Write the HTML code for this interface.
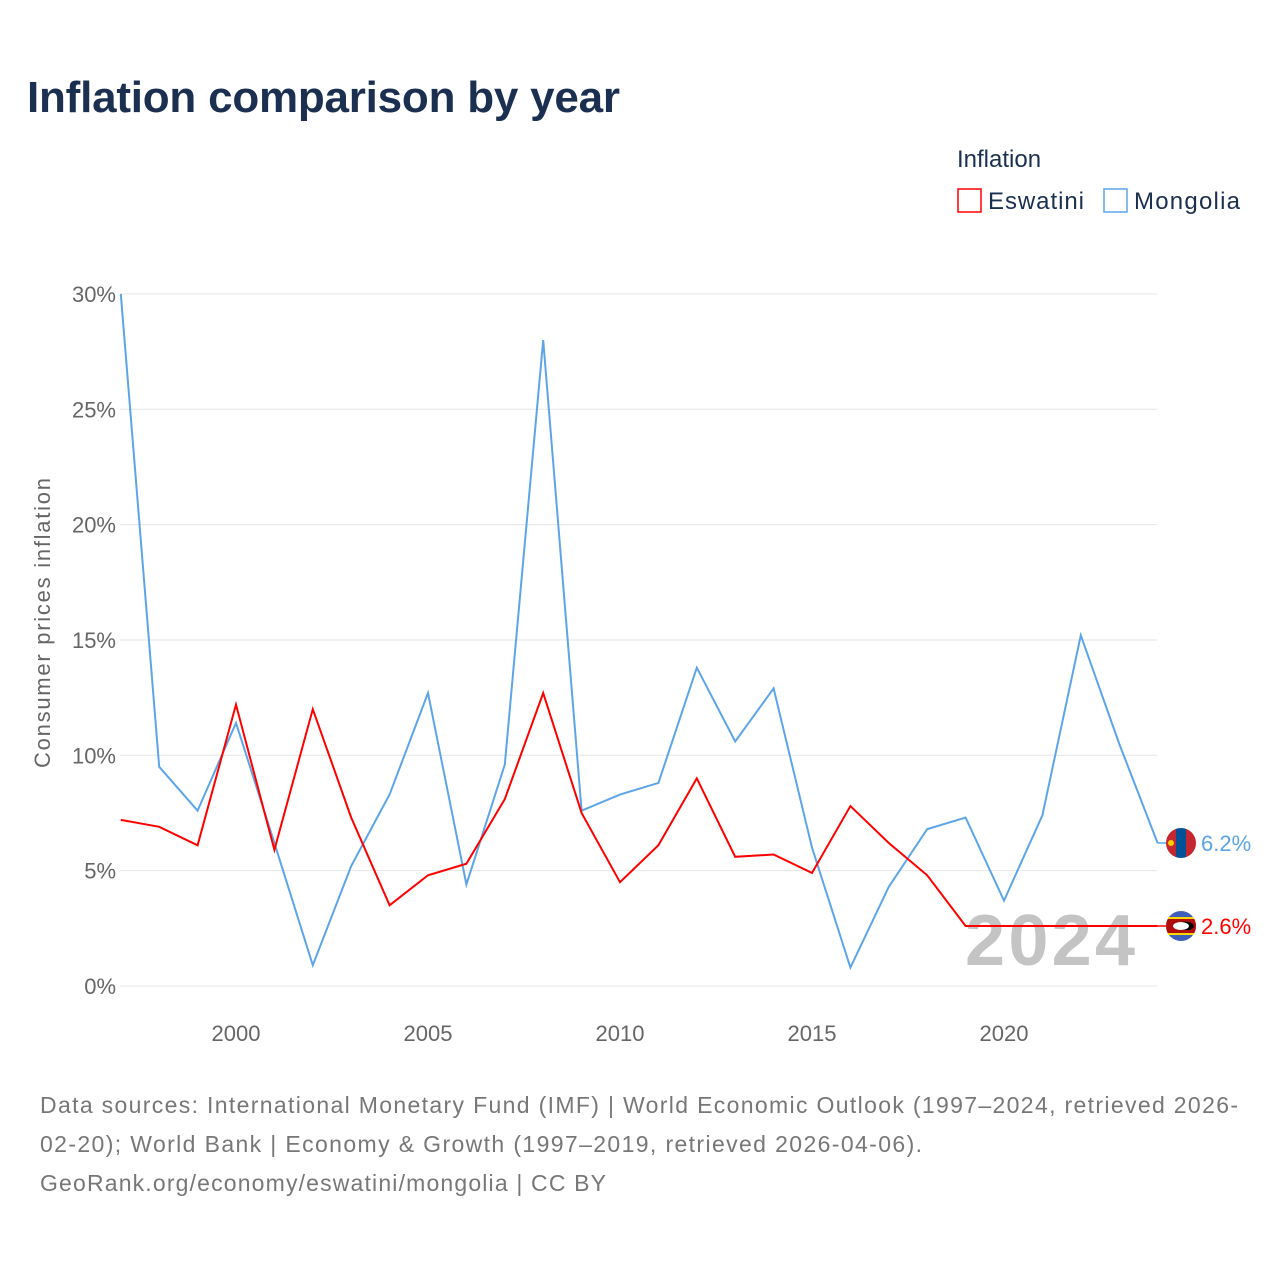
<!DOCTYPE html>
<html><head><meta charset="utf-8"><style>
body{margin:0;background:#fff;font-family:"Liberation Sans",sans-serif;}
#wrap{position:relative;width:1280px;height:1280px;overflow:hidden;}
</style></head><body>
<div id="wrap">
<svg id="chart" width="1280" height="1280">
<text x="27" y="112" font-size="44" font-weight="bold" fill="#1b3050" textLength="593">Inflation comparison by year</text>
<g>
<text x="957" y="167" font-size="24" fill="#1b3050">Inflation</text>
<g><rect x="958" y="189" width="23" height="23" fill="none" stroke="#ff0000" stroke-width="1.5"/><text x="988" y="209" font-size="24" fill="#1b3050" textLength="96">Eswatini</text></g>
<g><rect x="1104" y="189" width="23" height="23" fill="none" stroke="#5da5e8" stroke-width="1.5"/><text x="1134" y="209" font-size="24" fill="#1b3050" textLength="106">Mongolia</text></g>
</g>
<text transform="translate(50,623) rotate(-90)" text-anchor="middle" font-size="22" fill="#666" textLength="290">Consumer prices inflation</text>
<g id="grid"></g>
<g id="yticks"></g>
<g id="xticks"></g>
<text x="965" y="965" font-size="72" font-weight="bold" fill="#c4c4c4" textLength="170">2024</text>
<g id="series"></g>
<g font-size="23" fill="#777">
<text x="40" y="1113" textLength="1198">Data sources: International Monetary Fund (IMF) | World Economic Outlook (1997–2024, retrieved 2026-</text>
<text x="40" y="1152" textLength="882">02-20); World Bank | Economy &amp; Growth (1997–2019, retrieved 2026-04-06).</text>
<text x="40" y="1191" textLength="566">GeoRank.org/economy/eswatini/mongolia | CC BY</text>
</g>
</svg>
</div>
<script>
const years=[1997,1998,1999,2000,2001,2002,2003,2004,2005,2006,2007,2008,2009,2010,2011,2012,2013,2014,2015,2016,2017,2018,2019,2020,2021,2022,2023,2024];
const mongolia=[30,9.5,7.6,11.4,6.2,0.9,5.2,8.3,12.7,4.4,9.6,28.0,7.6,8.3,8.8,13.8,10.6,12.9,6.0,0.8,4.3,6.8,7.3,3.7,7.4,15.2,10.5,6.2];
const eswatini=[7.2,6.9,6.1,12.2,5.9,12.0,7.3,3.5,4.8,5.3,8.1,12.7,7.5,4.5,6.1,9.0,5.6,5.7,4.9,7.8,6.2,4.8,2.6,2.6,2.6,2.6,2.6,2.6];
const yTicks=[0,5,10,15,20,25,30];
const xTicks=[2000,2005,2010,2015,2020];
const NS="http://www.w3.org/2000/svg";
const x=v=>120.8+(v-1997)*38.4;
const y=v=>986-v*23.07;
function mk(t,a,p){const e=document.createElementNS(NS,t);for(const k in a)e.setAttribute(k,a[k]);p.appendChild(e);return e;}
const grid=document.getElementById('grid'),yt=document.getElementById('yticks'),xt=document.getElementById('xticks'),ser=document.getElementById('series');
yTicks.forEach(v=>{
 const l=mk('line',{x1:120,x2:1157,y1:y(v),y2:y(v),stroke:'#e6e6e6','stroke-width':1},grid);
 
 
 const t=mk('text',{x:116,y:y(v)+8,'text-anchor':'end','font-size':22,fill:'#666'},yt);
 t.textContent=v+'%';
 
 
});
xTicks.forEach(v=>{
 const t=mk('text',{x:x(v),y:1041,'text-anchor':'middle','font-size':22,fill:'#666'},xt);
 t.textContent=v;
 
 
});
function line(data,col,name){
 const p=mk('polyline',{points:data.map((v,i)=>x(years[i])+','+y(v)).join(' '),fill:'none',stroke:col,'stroke-width':2},ser);
 
 
 const last=data[data.length-1];
 const ext=mk('line',{x1:x(2024),x2:1180,y1:y(last),y2:y(last),stroke:col,'stroke-width':1.5},ser);
 
 
 const t=mk('text',{x:1201,y:y(last)+8,'font-size':22,fill:col},ser);
 t.textContent=last.toFixed(1)+'%';
 
 
 return y(last);
}
const ym=line(mongolia,'#5da5e8','mongolia-line');
const ye=line(eswatini,'#ff0000','eswatini-line');
const fm=mk('g',{},ser);


const cm=mk('clipPath',{id:'cm'},fm);mk('circle',{cx:1181,cy:ym,r:15},cm);
const gm=mk('g',{'clip-path':'url(#cm)'},fm);
mk('rect',{x:1166,y:ym-15,width:10,height:30,fill:'#c4272f'},gm);
mk('rect',{x:1176,y:ym-15,width:10,height:30,fill:'#015197'},gm);
mk('rect',{x:1186,y:ym-15,width:10,height:30,fill:'#c4272f'},gm);
mk('circle',{cx:1171,cy:ym,r:3,fill:'#f9cf02'},gm);
const fe=mk('g',{},ser);


const ce=mk('clipPath',{id:'ce'},fe);mk('circle',{cx:1181,cy:ye,r:15},ce);
const ge=mk('g',{'clip-path':'url(#ce)'},fe);
mk('rect',{x:1166,y:ye-15,width:30,height:30,fill:'#3e5eb9'},ge);
mk('rect',{x:1166,y:ye-9,width:30,height:18,fill:'#ffd900'},ge);
mk('rect',{x:1166,y:ye-7,width:30,height:14,fill:'#b10c0c'},ge);
mk('ellipse',{cx:1181,cy:ye,rx:8,ry:4,fill:'#fff'},ge);
mk('path',{d:`M1181 ${ye-4} a8 4 0 0 1 0 8 h8 a8 4 0 0 0 -8 -8z`,fill:'#000'},ge);
</script>
</body></html>
